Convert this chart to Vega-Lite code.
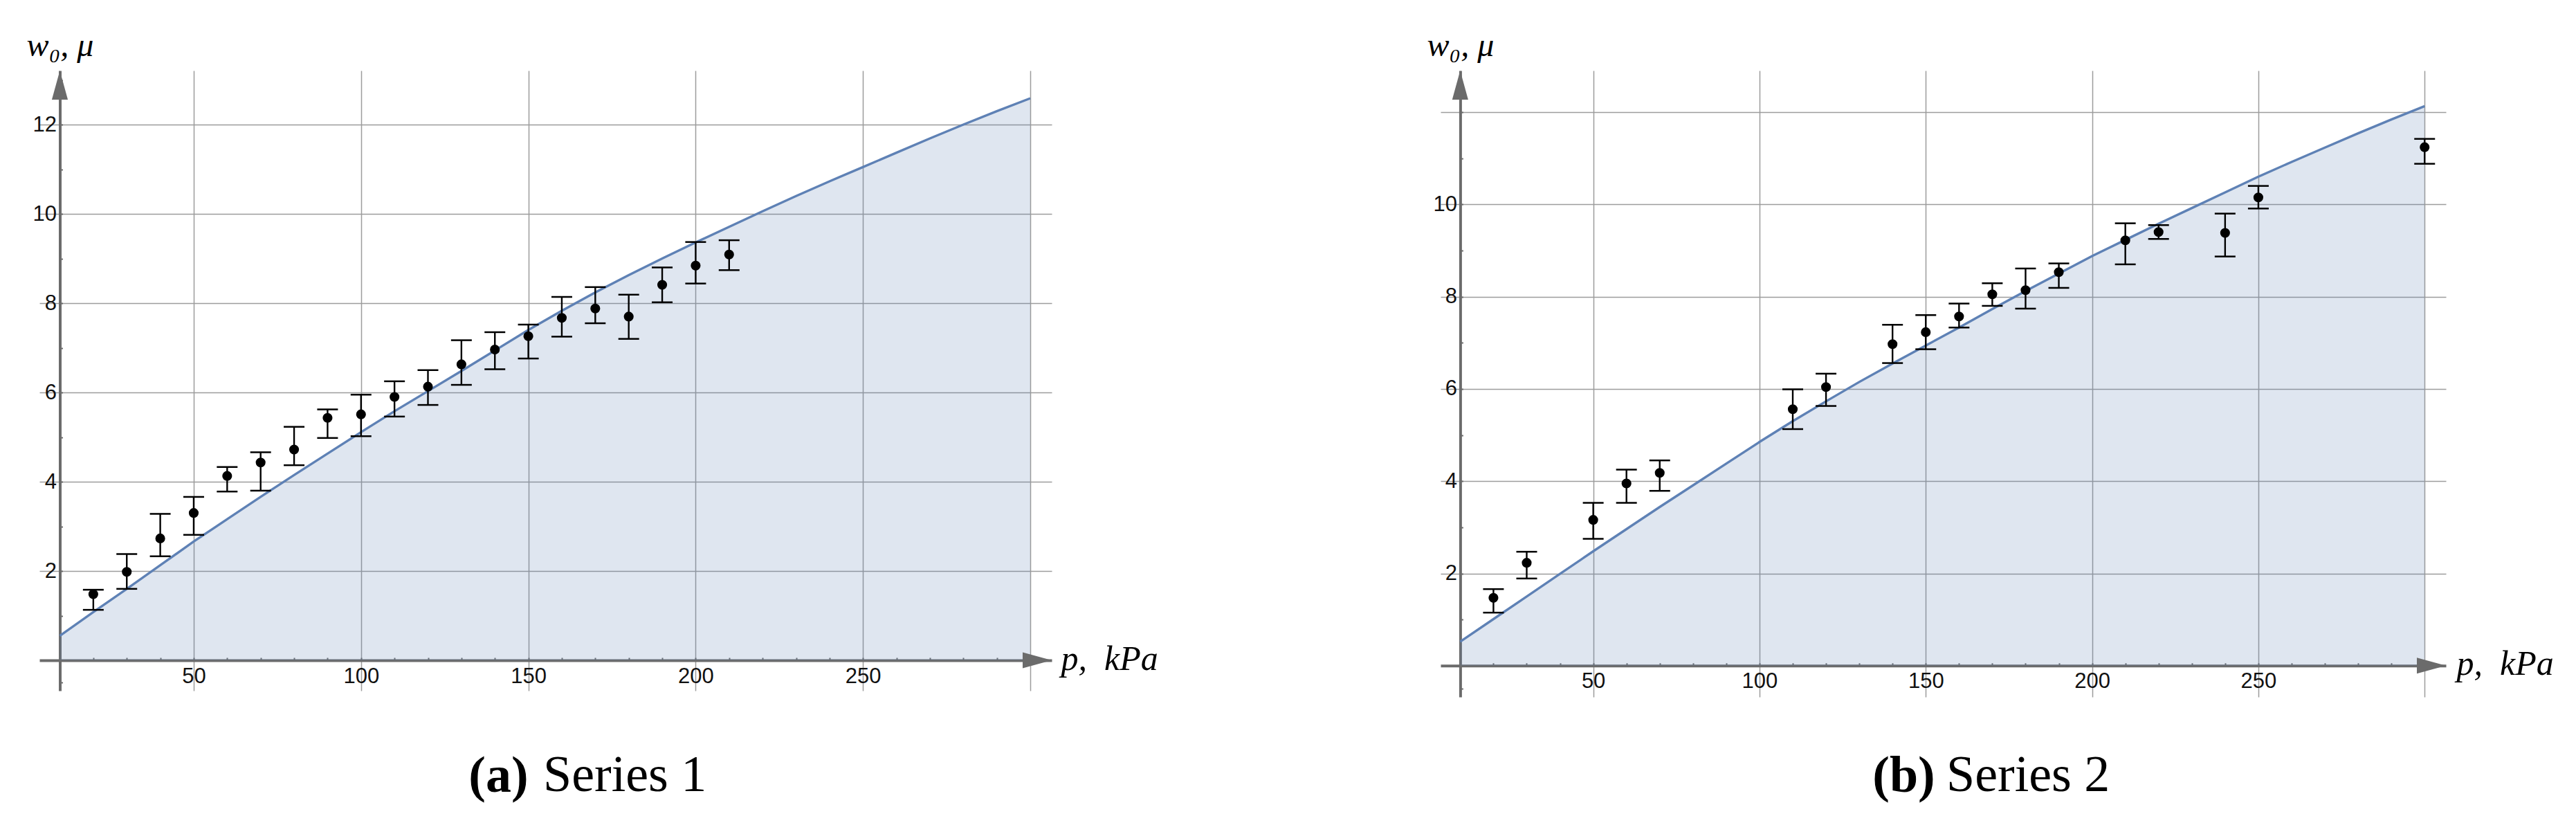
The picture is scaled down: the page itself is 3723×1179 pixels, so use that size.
{
  "$schema": "https://vega.github.io/schema/vega-lite/v6.json",
  "background": "white",
  "padding": {"left": 38, "top": 42, "right": 0, "bottom": 0},
  "spacing": 388,
  "config": {
    "view": {"stroke": null},
    "concat": {"spacing": 0},
    "axis": {
      "domainColor": "#6b6b6b", "domainWidth": 4, "tickColor": "#6b6b6b", "tickWidth": 2, "tickSize": -4,
      "labelFont": "Liberation Sans", "labelFontSize": 31, "labelColor": "#111", "labelOverlap": false, "labelFlush": false,
      "grid": true, "gridColor": "#9c9c9c", "gridWidth": 1.5,
      "titleFont": "Liberation Serif", "titleFontStyle": "italic", "titleFontWeight": "normal", "titleColor": "#000",
      "titleAngle": 0, "titleBaseline": "alphabetic", "titlePadding": 0
    }
  },
  "datasets": {
    "curve1": [
      {"p": 10, "w": 0.55}, {"p": 20, "w": 1.08}, {"p": 30, "w": 1.60}, {"p": 40, "w": 2.13}, {"p": 50, "w": 2.66},
      {"p": 60, "w": 3.16}, {"p": 70, "w": 3.66}, {"p": 80, "w": 4.15}, {"p": 90, "w": 4.63}, {"p": 100, "w": 5.11},
      {"p": 110, "w": 5.58}, {"p": 120, "w": 6.03}, {"p": 130, "w": 6.48}, {"p": 140, "w": 6.94}, {"p": 150, "w": 7.40},
      {"p": 160, "w": 7.83}, {"p": 170, "w": 8.24}, {"p": 180, "w": 8.63}, {"p": 190, "w": 9.00}, {"p": 200, "w": 9.36},
      {"p": 210, "w": 9.71}, {"p": 220, "w": 10.06}, {"p": 230, "w": 10.40}, {"p": 240, "w": 10.73}, {"p": 250, "w": 11.05},
      {"p": 260, "w": 11.37}, {"p": 270, "w": 11.69}, {"p": 280, "w": 12.00}, {"p": 290, "w": 12.30}, {"p": 300, "w": 12.59}
    ],
    "meas1": [
      {"p": 20, "w": 1.48, "lo": 1.13, "hi": 1.58}, {"p": 30, "w": 1.98, "lo": 1.60, "hi": 2.38},
      {"p": 40, "w": 2.73, "lo": 2.33, "hi": 3.28}, {"p": 50, "w": 3.30, "lo": 2.81, "hi": 3.66},
      {"p": 60, "w": 4.13, "lo": 3.78, "hi": 4.33}, {"p": 70, "w": 4.43, "lo": 3.80, "hi": 4.66},
      {"p": 80, "w": 4.72, "lo": 4.37, "hi": 5.23}, {"p": 90, "w": 5.43, "lo": 4.98, "hi": 5.62},
      {"p": 100, "w": 5.51, "lo": 5.02, "hi": 5.95}, {"p": 110, "w": 5.90, "lo": 5.46, "hi": 6.25},
      {"p": 120, "w": 6.13, "lo": 5.72, "hi": 6.50}, {"p": 130, "w": 6.63, "lo": 6.17, "hi": 7.17},
      {"p": 140, "w": 6.96, "lo": 6.52, "hi": 7.35}, {"p": 150, "w": 7.26, "lo": 6.76, "hi": 7.52},
      {"p": 160, "w": 7.67, "lo": 7.25, "hi": 8.14}, {"p": 170, "w": 7.88, "lo": 7.55, "hi": 8.36},
      {"p": 180, "w": 7.70, "lo": 7.20, "hi": 8.19}, {"p": 190, "w": 8.41, "lo": 8.02, "hi": 8.80},
      {"p": 200, "w": 8.84, "lo": 8.44, "hi": 9.37}, {"p": 210, "w": 9.09, "lo": 8.74, "hi": 9.41}
    ],
    "curve2": [
      {"p": 10, "w": 0.52}, {"p": 20, "w": 1.01}, {"p": 30, "w": 1.50}, {"p": 40, "w": 1.99}, {"p": 50, "w": 2.48},
      {"p": 60, "w": 2.96}, {"p": 70, "w": 3.44}, {"p": 80, "w": 3.91}, {"p": 90, "w": 4.38}, {"p": 100, "w": 4.85},
      {"p": 110, "w": 5.30}, {"p": 120, "w": 5.73}, {"p": 130, "w": 6.15}, {"p": 140, "w": 6.55}, {"p": 150, "w": 6.94},
      {"p": 160, "w": 7.33}, {"p": 170, "w": 7.73}, {"p": 180, "w": 8.12}, {"p": 190, "w": 8.50}, {"p": 200, "w": 8.88},
      {"p": 210, "w": 9.23}, {"p": 220, "w": 9.58}, {"p": 230, "w": 9.92}, {"p": 240, "w": 10.26}, {"p": 250, "w": 10.60},
      {"p": 260, "w": 10.92}, {"p": 270, "w": 11.23}, {"p": 280, "w": 11.54}, {"p": 290, "w": 11.84}, {"p": 300, "w": 12.13}
    ],
    "meas2": [
      {"p": 20, "w": 1.47, "lo": 1.15, "hi": 1.66}, {"p": 30, "w": 2.23, "lo": 1.89, "hi": 2.47},
      {"p": 50, "w": 3.16, "lo": 2.75, "hi": 3.53}, {"p": 60, "w": 3.95, "lo": 3.53, "hi": 4.25},
      {"p": 70, "w": 4.18, "lo": 3.79, "hi": 4.45}, {"p": 110, "w": 5.56, "lo": 5.13, "hi": 5.99},
      {"p": 120, "w": 6.04, "lo": 5.63, "hi": 6.33}, {"p": 140, "w": 6.97, "lo": 6.56, "hi": 7.39},
      {"p": 150, "w": 7.23, "lo": 6.86, "hi": 7.60}, {"p": 160, "w": 7.57, "lo": 7.33, "hi": 7.85},
      {"p": 170, "w": 8.05, "lo": 7.80, "hi": 8.29}, {"p": 180, "w": 8.14, "lo": 7.74, "hi": 8.61},
      {"p": 190, "w": 8.53, "lo": 8.19, "hi": 8.72}, {"p": 210, "w": 9.22, "lo": 8.70, "hi": 9.59},
      {"p": 220, "w": 9.40, "lo": 9.25, "hi": 9.55}, {"p": 240, "w": 9.38, "lo": 8.87, "hi": 9.80},
      {"p": 250, "w": 10.15, "lo": 9.91, "hi": 10.40}, {"p": 300, "w": 11.24, "lo": 10.88, "hi": 11.42}
    ]
  },
  "hconcat": [
    {
      "title": {"text": "Series 1", "orient": "bottom", "anchor": "start", "align": "left", "frame": "group", "font": "Liberation Serif", "fontSize": 74, "fontWeight": "normal", "color": "#000", "baseline": "alphabetic", "offset": -16, "dx": 728},
      "vconcat": [
        {
          "width": 1463, "height": 896,
          "title": {"text": "(a)", "orient": "bottom", "anchor": "middle", "frame": "group", "font": "Liberation Serif", "fontSize": 74, "fontWeight": "bold", "color": "#000", "baseline": "alphabetic", "offset": 143, "dx": -68},
          "layer": [
            {
              "data": {"name": "curve1"},
              "mark": {"type": "area", "color": "#5e81b5", "opacity": 0.2},
              "encoding": {
                "x": {"field": "p", "type": "quantitative", "scale": {"domain": [3.9, 306.4], "nice": false, "zero": false},
                  "axis": {"values": [10,20,30,40,50,60,70,80,90,100,110,120,130,140,150,160,170,180,190,200,210,220,230,240,250,260,270,280,290,300],
                    "offset": -44, "labelPadding": 12, "format": "d",
                    "labelExpr": "datum.value % 50 === 0 && datum.value < 300 ? datum.label : ''",
                    "gridOpacity": {"condition": {"test": "datum.value % 50 === 0", "value": 1}, "value": 0},
                    "title": "p,\u00a0 kPa", "titleFontSize": 50, "titleAlign": "left", "titleX": 1476, "titleY": 13}},
                "y": {"field": "w", "type": "quantitative", "scale": {"domain": [-0.682, 13.21], "nice": false, "zero": false},
                  "axis": {"values": [-0.5,0.5,1,1.5,2,2.5,3,3.5,4,4.5,5,5.5,6,6.5,7,7.5,8,8.5,9,9.5,10,10.5,11,11.5,12,12.5,13],
                    "offset": -29.5, "labelPadding": 9, "format": "d",
                    "labelExpr": "datum.value % 2 === 0 ? datum.label : ''",
                    "gridOpacity": {"condition": {"test": "datum.value % 2 === 0", "value": 1}, "value": 0},
                    "title": "w₀, μ", "titleFontSize": 48, "titleAlign": "center", "titleX": 0, "titleY": -22}},
                "y2": {"datum": 0}
              }
            },
            {
              "data": {"name": "curve1"},
              "mark": {"type": "line", "color": "#5e81b5", "strokeWidth": 3.4},
              "encoding": {
                "x": {"field": "p", "type": "quantitative", "scale": {"domain": [3.9, 306.4], "nice": false, "zero": false}},
                "y": {"field": "w", "type": "quantitative", "scale": {"domain": [-0.682, 13.21], "nice": false, "zero": false}}
              }
            },
            {
              "data": {"name": "meas1"},
              "mark": {"type": "rule", "color": "#000", "strokeWidth": 2.4},
              "encoding": {
                "x": {"field": "p", "type": "quantitative", "scale": {"domain": [3.9, 306.4], "nice": false, "zero": false}},
                "y": {"field": "lo", "type": "quantitative", "scale": {"domain": [-0.682, 13.21], "nice": false, "zero": false}},
                "y2": {"field": "hi"}
              }
            },
            {
              "data": {"name": "meas1"},
              "mark": {"type": "tick", "orient": "horizontal", "color": "#000", "size": 30, "thickness": 2.5, "opacity": 1},
              "encoding": {
                "x": {"field": "p", "type": "quantitative", "scale": {"domain": [3.9, 306.4], "nice": false, "zero": false}},
                "y": {"field": "lo", "type": "quantitative", "scale": {"domain": [-0.682, 13.21], "nice": false, "zero": false}}
              }
            },
            {
              "data": {"name": "meas1"},
              "mark": {"type": "tick", "orient": "horizontal", "color": "#000", "size": 30, "thickness": 2.5, "opacity": 1},
              "encoding": {
                "x": {"field": "p", "type": "quantitative", "scale": {"domain": [3.9, 306.4], "nice": false, "zero": false}},
                "y": {"field": "hi", "type": "quantitative", "scale": {"domain": [-0.682, 13.21], "nice": false, "zero": false}}
              }
            },
            {
              "data": {"name": "meas1"},
              "mark": {"type": "circle", "color": "#000", "size": 200, "opacity": 1},
              "encoding": {
                "x": {"field": "p", "type": "quantitative", "scale": {"domain": [3.9, 306.4], "nice": false, "zero": false}},
                "y": {"field": "w", "type": "quantitative", "scale": {"domain": [-0.682, 13.21], "nice": false, "zero": false}}
              }
            },
            {
              "data": {"values": [{}]},
              "mark": {"type": "point", "shape": "M0,0L0.55,2L-0.55,2Z", "filled": true, "size": 1764, "color": "#6b6b6b", "opacity": 1, "strokeWidth": 0},
              "encoding": {
                "x": {"datum": 10, "type": "quantitative", "scale": {"domain": [3.9, 306.4], "nice": false, "zero": false}},
                "y": {"datum": 13.21, "type": "quantitative", "scale": {"domain": [-0.682, 13.21], "nice": false, "zero": false}}
              }
            },
            {
              "data": {"values": [{}]},
              "mark": {"type": "point", "shape": "M0,0L-2,-0.55L-2,0.55Z", "filled": true, "size": 1764, "color": "#6b6b6b", "opacity": 1, "strokeWidth": 0},
              "encoding": {
                "x": {"datum": 306.4, "type": "quantitative", "scale": {"domain": [3.9, 306.4], "nice": false, "zero": false}},
                "y": {"datum": 0, "type": "quantitative", "scale": {"domain": [-0.682, 13.21], "nice": false, "zero": false}}
              }
            }
          ]
        }
      ]
    },
    {
      "title": {"text": "Series 2", "orient": "bottom", "anchor": "start", "align": "left", "frame": "group", "font": "Liberation Serif", "fontSize": 74, "fontWeight": "normal", "color": "#000", "baseline": "alphabetic", "offset": -16, "dx": 731},
      "vconcat": [
        {
          "width": 1453, "height": 905,
          "title": {"text": "(b)", "orient": "bottom", "anchor": "middle", "frame": "group", "font": "Liberation Serif", "fontSize": 74, "fontWeight": "bold", "color": "#000", "baseline": "alphabetic", "offset": 134, "dx": -57},
          "layer": [
            {
              "data": {"name": "curve2"},
              "mark": {"type": "area", "color": "#5e81b5", "opacity": 0.2},
              "encoding": {
                "x": {"field": "p", "type": "quantitative", "scale": {"domain": [4.1, 306.4], "nice": false, "zero": false},
                  "axis": {"values": [10,20,30,40,50,60,70,80,90,100,110,120,130,140,150,160,170,180,190,200,210,220,230,240,250,260,270,280,290,300],
                    "offset": -45.2, "labelPadding": 12, "format": "d",
                    "labelExpr": "datum.value % 50 === 0 && datum.value < 300 ? datum.label : ''",
                    "gridOpacity": {"condition": {"test": "datum.value % 50 === 0", "value": 1}, "value": 0},
                    "title": "p,\u00a0 kPa", "titleFontSize": 50, "titleAlign": "left", "titleX": 1468, "titleY": 13}},
                "y": {"field": "w", "type": "quantitative", "scale": {"domain": [-0.678, 12.9], "nice": false, "zero": false},
                  "axis": {"values": [-0.5,0.5,1,1.5,2,2.5,3,3.5,4,4.5,5,5.5,6,6.5,7,7.5,8,8.5,9,9.5,10,10.5,11,11.5,12,12.5],
                    "offset": -28.4, "labelPadding": 9, "format": "d",
                    "labelExpr": "datum.value % 2 === 0 && datum.value < 11 ? datum.label : ''",
                    "gridOpacity": {"condition": {"test": "datum.value % 2 === 0", "value": 1}, "value": 0},
                    "title": "w₀, μ", "titleFontSize": 48, "titleAlign": "center", "titleX": 0, "titleY": -22}},
                "y2": {"datum": 0}
              }
            },
            {
              "data": {"name": "curve2"},
              "mark": {"type": "line", "color": "#5e81b5", "strokeWidth": 3.4},
              "encoding": {
                "x": {"field": "p", "type": "quantitative", "scale": {"domain": [4.1, 306.4], "nice": false, "zero": false}},
                "y": {"field": "w", "type": "quantitative", "scale": {"domain": [-0.678, 12.9], "nice": false, "zero": false}}
              }
            },
            {
              "data": {"name": "meas2"},
              "mark": {"type": "rule", "color": "#000", "strokeWidth": 2.4},
              "encoding": {
                "x": {"field": "p", "type": "quantitative", "scale": {"domain": [4.1, 306.4], "nice": false, "zero": false}},
                "y": {"field": "lo", "type": "quantitative", "scale": {"domain": [-0.678, 12.9], "nice": false, "zero": false}},
                "y2": {"field": "hi"}
              }
            },
            {
              "data": {"name": "meas2"},
              "mark": {"type": "tick", "orient": "horizontal", "color": "#000", "size": 30, "thickness": 2.5, "opacity": 1},
              "encoding": {
                "x": {"field": "p", "type": "quantitative", "scale": {"domain": [4.1, 306.4], "nice": false, "zero": false}},
                "y": {"field": "lo", "type": "quantitative", "scale": {"domain": [-0.678, 12.9], "nice": false, "zero": false}}
              }
            },
            {
              "data": {"name": "meas2"},
              "mark": {"type": "tick", "orient": "horizontal", "color": "#000", "size": 30, "thickness": 2.5, "opacity": 1},
              "encoding": {
                "x": {"field": "p", "type": "quantitative", "scale": {"domain": [4.1, 306.4], "nice": false, "zero": false}},
                "y": {"field": "hi", "type": "quantitative", "scale": {"domain": [-0.678, 12.9], "nice": false, "zero": false}}
              }
            },
            {
              "data": {"name": "meas2"},
              "mark": {"type": "circle", "color": "#000", "size": 200, "opacity": 1},
              "encoding": {
                "x": {"field": "p", "type": "quantitative", "scale": {"domain": [4.1, 306.4], "nice": false, "zero": false}},
                "y": {"field": "w", "type": "quantitative", "scale": {"domain": [-0.678, 12.9], "nice": false, "zero": false}}
              }
            },
            {
              "data": {"values": [{}]},
              "mark": {"type": "point", "shape": "M0,0L0.55,2L-0.55,2Z", "filled": true, "size": 1764, "color": "#6b6b6b", "opacity": 1, "strokeWidth": 0},
              "encoding": {
                "x": {"datum": 10, "type": "quantitative", "scale": {"domain": [4.1, 306.4], "nice": false, "zero": false}},
                "y": {"datum": 12.9, "type": "quantitative", "scale": {"domain": [-0.678, 12.9], "nice": false, "zero": false}}
              }
            },
            {
              "data": {"values": [{}]},
              "mark": {"type": "point", "shape": "M0,0L-2,-0.55L-2,0.55Z", "filled": true, "size": 1764, "color": "#6b6b6b", "opacity": 1, "strokeWidth": 0},
              "encoding": {
                "x": {"datum": 306.4, "type": "quantitative", "scale": {"domain": [4.1, 306.4], "nice": false, "zero": false}},
                "y": {"datum": 0, "type": "quantitative", "scale": {"domain": [-0.678, 12.9], "nice": false, "zero": false}}
              }
            }
          ]
        }
      ]
    }
  ]
}
